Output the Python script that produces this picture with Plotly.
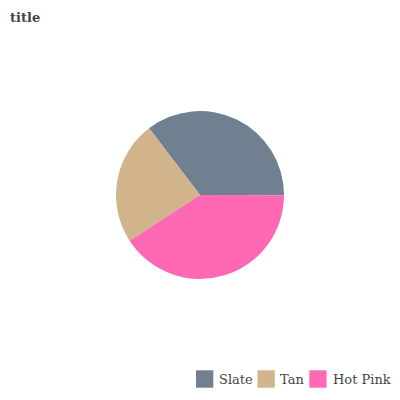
import plotly.graph_objects as go

labels = ["Slate", "Tan", "Hot Pink"]
values = [35.4, 23.8, 40.8]
colors = ["#708090", "#D2B48C", "#FF69B4"]

W, H = 400, 400
fig = go.Figure(go.Pie(
    labels=labels, values=values, sort=False, direction="counterclockwise",
    rotation=-37.3, marker=dict(colors=colors), textinfo="none", hoverinfo="label+value",
    domain=dict(x=[(200 - 84) / W, (200 + 84) / W], y=[1 - 279 / H, 1 - 111 / H]),
    showlegend=False,
))

# manual legend (swatch left edges, text left edges in px)
swatch_x = [196, 257.5, 309.3]
text_x = [219.3, 280.3, 332.7]
legend_y = 379
shapes, annotations = [], []
for lab, col, sx, tx in zip(labels, colors, swatch_x, text_x):
    shapes.append(dict(type="rect", xref="paper", yref="paper",
                       x0=sx / W, x1=(sx + 17.3) / W,
                       y0=1 - (legend_y + 8.7) / H, y1=1 - (legend_y - 8.7) / H,
                       fillcolor=col, line=dict(width=0)))
    annotations.append(dict(text=lab, xref="paper", yref="paper", x=(tx - 1) / W,
                            y=1 - legend_y / H, xanchor="left", yanchor="middle",
                            showarrow=False, borderpad=0,
                            font=dict(family="DejaVu Serif", size=13, color="#444")))

fig.update_layout(
    width=W, height=H,
    margin=dict(l=0, r=0, t=0, b=0),
    paper_bgcolor="white", plot_bgcolor="white",
    font=dict(family="DejaVu Serif", color="#444", size=13),
    title=dict(text="<b>title</b>", x=10 / W, xanchor="left", y=1 - 17 / H, yanchor="middle",
               font=dict(family="DejaVu Serif", size=13, color="#444")),
    shapes=shapes, annotations=annotations,
)
fig.write_html("out.html")
